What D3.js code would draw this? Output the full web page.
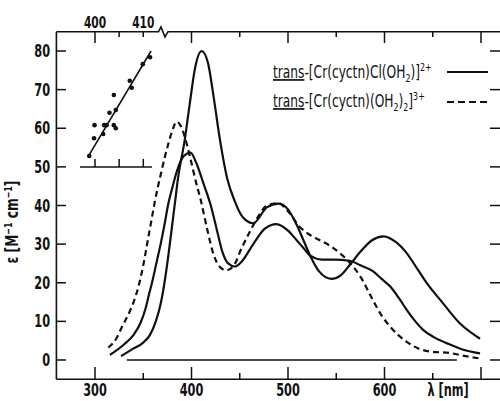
<!DOCTYPE html>
<html>
<head>
<meta charset="utf-8">
<script src="https://cdn.jsdelivr.net/npm/d3@7"></script>
<style>
  body { margin: 0; background: #fff; }
  svg { display: block; }
  text { font-family: "Liberation Sans Narrow", "DejaVu Sans Condensed", sans-serif; fill: #111; }
</style>
</head>
<body>
<svg id="chart" width="500" height="401"></svg>
<script>
// curve 1: trans-[Cr(cyctn)Cl(OH2)]2+ (big band at 410 nm)
const curveA = [
  [327, 1.0], [340, 3], [350, 4.5], [357, 6.5], [363, 10], [368, 14.5], [372, 20], [376, 27],
  [380, 35], [383, 41], [386, 47], [393, 57], [398, 66], [404, 76], [410.5, 80], [417, 77],
  [423, 68], [429.5, 57], [437, 47], [445, 41], [453, 37], [464, 35.4], [478, 39.5], [490, 40.5],
  [500, 39], [509, 35], [516, 31], [523, 27], [532, 23], [545, 21], [555, 22], [564, 24.6],
  [575, 28], [587, 31], [599, 32], [612, 30.5], [622, 28], [633, 24], [645, 19.5], [658, 15.5],
  [678, 9.5], [699, 5.5]
];
// curve 2: second solid spectrum (band at 400 nm)
const curveB = [
  [315.5, 1.3], [330, 4], [340, 6.5], [347, 9.5], [352, 13], [356, 17], [360, 21], [364, 25.5],
  [368, 30], [372, 35], [376, 40.5], [380, 44.5], [385, 49], [392, 52.8], [399, 53.7], [405, 51],
  [412, 46], [420, 40], [426, 34], [432, 28], [438, 25], [445, 24.2], [452, 25.5], [464, 30],
  [476, 34], [488, 35.2], [500, 33.5], [509, 31], [516, 29], [523, 27], [535, 26], [547, 26],
  [564, 25.7], [575, 24.5], [588, 23], [597, 21], [606, 19], [615, 16], [623, 13], [632, 10],
  [640, 7.8], [652, 5.8], [665, 4.3], [680, 2.8], [699, 1.7]
];
// dashed: trans-[Cr(cyctn)(OH2)2]3+
const curveDashed = [
  [313.8, 3.2], [322, 5.5], [328, 8.6], [334, 11.5], [340, 15], [345, 19], [350, 24.5], [354, 30],
  [358, 35.5], [362, 41], [369, 49], [376, 56], [381, 60], [384.6, 61.7], [389, 60.5], [393, 57.8],
  [399, 52], [405, 45.7], [409, 42], [415.7, 34.5], [422, 28], [428, 24.5], [436, 23.2], [444, 24.5],
  [452, 29], [460, 33], [470, 37.5], [478, 40], [490, 40.6], [500, 38.5], [512, 34.5], [522, 32.5],
  [533, 31], [544, 29.5], [554, 27.6], [564, 25.2], [575, 21.6], [588, 15.5], [597, 11.5], [606, 8.6],
  [615, 6.3], [623, 4.7], [635, 3.0], [647, 2.2], [668, 1.8], [684, 1.0], [699, 0.4]
];
// inset: band maximum (nm) vs epsilon
const insetPoints = [
  [398.8, 52.8], [399.8, 57.4], [399.9, 60.8], [401.7, 58.5], [401.9, 60.8], [402.4, 60.8],
  [403.0, 64.0], [403.9, 60.8], [403.9, 68.6], [404.3, 60.0], [404.3, 64.7], [407.2, 72.3],
  [407.6, 70.5], [409.9, 76.6], [411.4, 78.4]
];
const insetFit = [[398.7, 52.9], [411.6, 80]];
const baseline = [[333, 0], [675, 0]];

const xTickLabels = [300, 400, 500, 600];
const yTickValues = [0, 10, 20, 30, 40, 50, 60, 70, 80];
const insetTickLabels = [400, 410];

const svg = d3.select("#chart");
const x = d3.scaleLinear().domain([260, 720]).range([56.4, 500.3]);
const y = d3.scaleLinear().domain([-5, 85]).range([379.3, 31.7]);
const xi = d3.scaleLinear().domain([400, 410]).range([95, 143.3]);
const squeeze = 0.74;

// frame
svg.append("line").attr("x1", 56.4).attr("x2", 56.4).attr("y1", 31.7).attr("y2", 379.3)
  .attr("stroke", "#111").attr("stroke-width", 1.6);
svg.append("line").attr("x1", 56.4).attr("x2", 500).attr("y1", 379.3).attr("y2", 379.3)
  .attr("stroke", "#111").attr("stroke-width", 1.6);
// top line with break
svg.append("path")
  .attr("d", "M56.4,31.7 L158.5,31.7 L161,27 L165,37 L168,31.7 L500,31.7")
  .attr("fill", "none").attr("stroke", "#111").attr("stroke-width", 1.6);

// bottom ticks (inside)
const bottomTicks = d3.range(300, 701, 50);
svg.selectAll(".bt").data(bottomTicks).enter().append("line")
  .attr("x1", d => x(d)).attr("x2", d => x(d))
  .attr("y1", 379.3).attr("y2", d => d % 100 === 0 ? 367 : 373)
  .attr("stroke", "#111").attr("stroke-width", 1.5);
svg.selectAll(".btl").data(xTickLabels).enter().append("text")
  .attr("transform", d => `translate(${x(d)},396) scale(${squeeze},1)`)
  .attr("text-anchor", "middle").attr("font-size", 17).attr("font-weight", "bold").text(d => d);
svg.append("text").attr("transform", `translate(448,396) scale(${squeeze},1)`)
  .attr("text-anchor", "middle").attr("font-size", 17).attr("font-weight", "bold").text("λ [nm]");

// top ticks (inside)
const topTicks = [300, 325, 350].concat(d3.range(400, 701, 50));
svg.selectAll(".tt").data(topTicks).enter().append("line")
  .attr("x1", d => x(d)).attr("x2", d => x(d))
  .attr("y1", 31.7).attr("y2", d => (d === 325 || d % 100 === 50) ? 37 : 43)
  .attr("stroke", "#111").attr("stroke-width", 1.5);
svg.selectAll(".ttl").data(insetTickLabels).enter().append("text")
  .attr("transform", d => `translate(${xi(d)},28) scale(${squeeze},1)`)
  .attr("text-anchor", "middle").attr("font-size", 16).attr("font-weight", "bold").text(d => d);

// left + right ticks
svg.selectAll(".lt").data(yTickValues).enter().append("line")
  .attr("x1", 56.4).attr("x2", 66).attr("y1", d => y(d)).attr("y2", d => y(d))
  .attr("stroke", "#111").attr("stroke-width", 1.5);
svg.selectAll(".rt").data(yTickValues).enter().append("line")
  .attr("x1", 490).attr("x2", 500).attr("y1", d => y(d)).attr("y2", d => y(d))
  .attr("stroke", "#111").attr("stroke-width", 1.5);
svg.selectAll(".ltl").data(yTickValues).enter().append("text")
  .attr("transform", d => `translate(50,${y(d) + 6}) scale(${squeeze},1)`)
  .attr("text-anchor", "end").attr("font-size", 17).attr("font-weight", "bold").text(d => d);

// y label
const yl = svg.append("text").attr("transform", "translate(18,222) rotate(-90) scale(0.8,1)")
  .attr("text-anchor", "middle").attr("font-size", 17).attr("font-weight", "bold");
yl.append("tspan").text("ε [M");
yl.append("tspan").attr("dy", -6).attr("font-size", 11).text("−1");
yl.append("tspan").attr("dy", 6).text(" cm");
yl.append("tspan").attr("dy", -6).attr("font-size", 11).text("−1");
yl.append("tspan").attr("dy", 6).text("]");

// curves
const line = d3.line().x(d => x(d[0])).y(d => y(d[1])).curve(d3.curveMonotoneX);
svg.append("path").datum(baseline).attr("d", d3.line().x(d => x(d[0])).y(d => y(d[1])))
  .attr("stroke", "#111").attr("stroke-width", 1.3);
svg.append("path").datum(curveA).attr("d", line).attr("fill", "none")
  .attr("stroke", "#111").attr("stroke-width", 2.2);
svg.append("path").datum(curveB).attr("d", line).attr("fill", "none")
  .attr("stroke", "#111").attr("stroke-width", 2.2);
svg.append("path").datum(curveDashed).attr("d", line).attr("fill", "none")
  .attr("stroke", "#111").attr("stroke-width", 2.2).attr("stroke-dasharray", "6,4");

// inset
svg.append("line").attr("x1", xi(396.9)).attr("x2", xi(411.8)).attr("y1", y(50)).attr("y2", y(50))
  .attr("stroke", "#111").attr("stroke-width", 1.5);
svg.selectAll(".it").data([400, 405, 410]).enter().append("line")
  .attr("x1", d => xi(d)).attr("x2", d => xi(d)).attr("y1", y(50)).attr("y2", y(50) - 8)
  .attr("stroke", "#111").attr("stroke-width", 1.5);
svg.append("path").datum(insetFit).attr("d", d3.line().x(d => xi(d[0])).y(d => y(d[1])))
  .attr("stroke", "#111").attr("stroke-width", 1.6);
svg.selectAll(".ip").data(insetPoints).enter().append("circle")
  .attr("cx", d => xi(d[0])).attr("cy", d => y(d[1])).attr("r", 2.3).attr("fill", "#111");

// legend
function legendEntry(yb, sample, dashed, parts) {
  const t = svg.append("text").attr("transform", `translate(273,${yb}) scale(0.8,1)`)
    .attr("font-size", 17);
  t.append("tspan").attr("text-decoration", "underline").text("trans");
  parts.forEach(p => {
    const s = t.append("tspan").text(p.t);
    if (p.dy) s.attr("dy", p.dy);
    if (p.fs) s.attr("font-size", p.fs);
  });
  svg.append("line").attr("x1", 447).attr("x2", 488).attr("y1", sample).attr("y2", sample)
    .attr("stroke", "#111").attr("stroke-width", 1.8)
    .attr("stroke-dasharray", dashed ? "7,4" : null);
}
legendEntry(78, 72, false, [
  { t: "-[Cr(cyctn)Cl(OH" }, { t: "2", dy: 4, fs: 11 }, { t: ")]", dy: -4 },
  { t: "2+", dy: -7, fs: 11 }
]);
legendEntry(107, 102, true, [
  { t: "-[Cr(cyctn)(OH" }, { t: "2", dy: 4, fs: 11 }, { t: ")", dy: -4 },
  { t: "2", dy: 4, fs: 11 }, { t: "]", dy: -4 }, { t: "3+", dy: -7, fs: 11 }
]);
</script>
</body>
</html>
